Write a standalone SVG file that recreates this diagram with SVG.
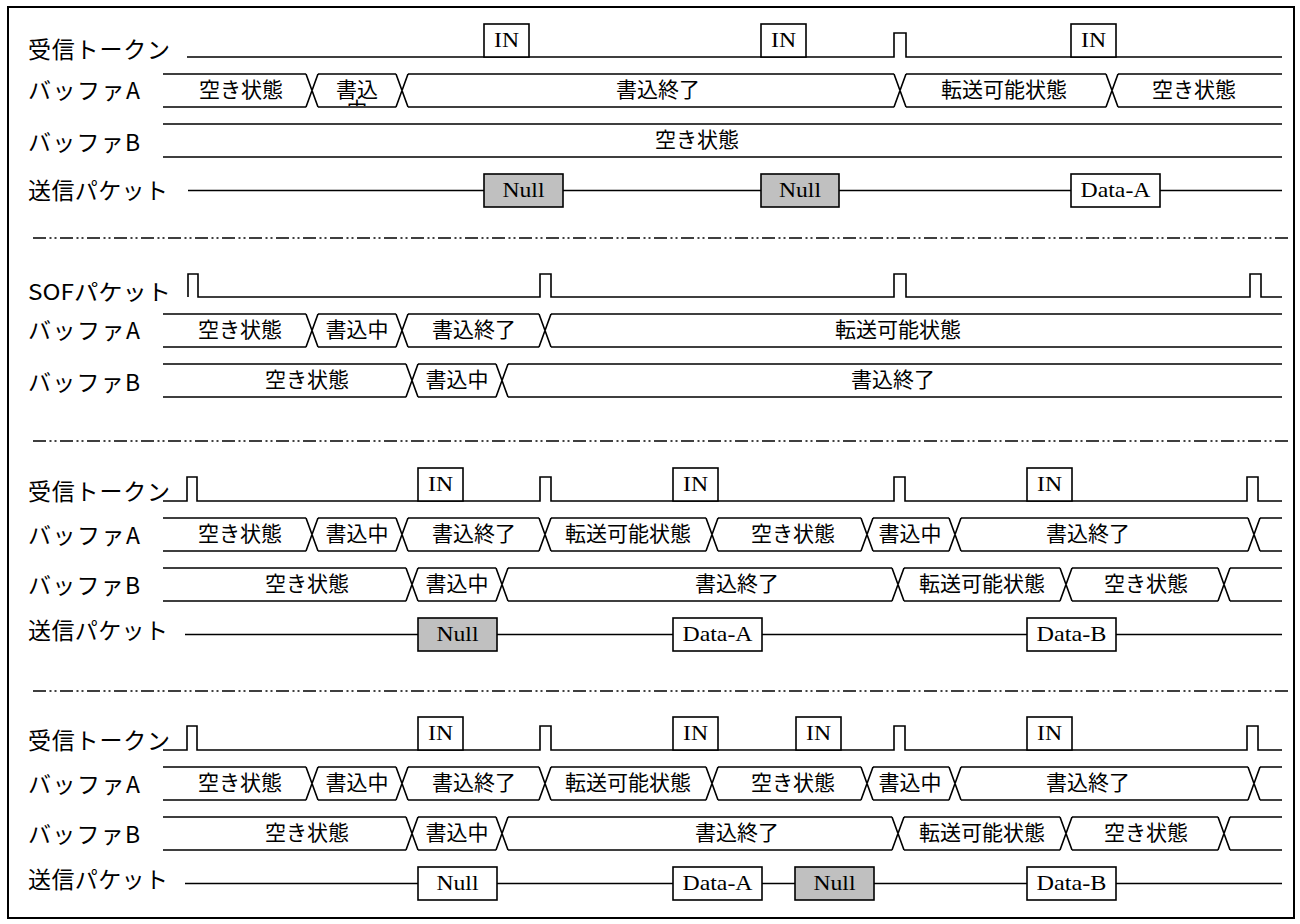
<svg xmlns="http://www.w3.org/2000/svg" width="1300" height="924" viewBox="0 0 1300 924">
<style>
.sig{fill:none;stroke:#000;stroke-width:1.6}
.box{fill:#fff;stroke:#000;stroke-width:1.6}
.gbox{fill:#c0c0c0;stroke:#000;stroke-width:1.6}
.lbl{font-family:"Noto Sans CJK JP","Noto Sans",sans-serif;font-size:23px;fill:#000}
.st{font-family:"Noto Sans CJK JP","Noto Sans",sans-serif;font-size:21px;fill:#000;text-anchor:middle}
.pk{font-family:"Liberation Serif","Times New Roman",serif;font-size:22px;fill:#000;text-anchor:middle}
.sep{fill:none;stroke:#000;stroke-width:1.5;stroke-dasharray:13 3.5 2 3 2 3.5}
</style>
<defs>
<clipPath id="clipW"><rect x="318" y="75" width="78" height="31"/></clipPath>
</defs>
<rect x="8" y="7" width="1286" height="911" fill="#fff" stroke="#000" stroke-width="2"/>

<g id="separators">
<line class="sep" x1="33" y1="238" x2="1288" y2="238"/>
<line class="sep" x1="33" y1="441" x2="1288" y2="441"/>
<line class="sep" x1="33" y1="691" x2="1288" y2="691"/>
</g>

<!-- Section 1 -->
<g id="s1-token">
<text class="lbl" x="28" y="58" textLength="142" lengthAdjust="spacing">受信トークン</text>
<path class="sig" d="M187,57H894V33H906V57H1282"/>
<rect class="box" x="484" y="24" width="45" height="33"/><text class="pk" x="506.5" y="47" textLength="25" lengthAdjust="spacingAndGlyphs">IN</text>
<rect class="box" x="761" y="24" width="45" height="33"/><text class="pk" x="783.5" y="47" textLength="25" lengthAdjust="spacingAndGlyphs">IN</text>
<rect class="box" x="1071" y="24" width="45" height="33"/><text class="pk" x="1093.5" y="47" textLength="25" lengthAdjust="spacingAndGlyphs">IN</text>
</g>
<g id="s1-bufA">
<text class="lbl" x="28" y="99" textLength="112" lengthAdjust="spacing">バッファA</text>
<path class="sig" d="M163,74H306M318,74H396M408,74H894M906,74H1106M1118,74H1282M163,107H306M318,107H396M408,107H894M906,107H1106M1118,107H1282M306,74L318,107M306,107L318,74M396,74L408,107M396,107L408,74M894,74L906,107M894,107L906,74M1106,74L1118,107M1106,107L1118,74"/>
<text class="st" x="241" y="97">空き状態</text>
<text class="st" x="357" y="97">書込</text>
<text class="st" x="357" y="117" clip-path="url(#clipW)">中</text>
<text class="st" x="658" y="97">書込終了</text>
<text class="st" x="1004" y="97">転送可能状態</text>
<text class="st" x="1194" y="97">空き状態</text>
</g>
<g id="s1-bufB">
<text class="lbl" x="28" y="151" textLength="112" lengthAdjust="spacing">バッファB</text>
<path class="sig" d="M163,124H1282M163,157H1282"/>
<text class="st" x="697" y="147">空き状態</text>
</g>
<g id="s1-packet">
<text class="lbl" x="28" y="199" textLength="140" lengthAdjust="spacing">送信パケット</text>
<path class="sig" d="M188,190.5H1282"/>
<rect class="gbox" x="484" y="174" width="79" height="33"/><text class="pk" x="523.5" y="197" textLength="42" lengthAdjust="spacingAndGlyphs">Null</text>
<rect class="gbox" x="761" y="174" width="78" height="33"/><text class="pk" x="800" y="197" textLength="42" lengthAdjust="spacingAndGlyphs">Null</text>
<rect class="box" x="1071" y="174" width="89" height="33"/><text class="pk" x="1115.5" y="197" textLength="70" lengthAdjust="spacingAndGlyphs">Data-A</text>
</g>

<!-- Section 2 -->
<g id="s2-sof">
<text class="lbl" x="28" y="300" textLength="143" lengthAdjust="spacingAndGlyphs" style="font-size:22px">SOFパケット</text>
<path class="sig" d="M188,297V274H198V297H540V274H551V297H894V274H906V297H1250V274H1261V297H1282"/>
</g>
<g id="s2-bufA">
<text class="lbl" x="28" y="339" textLength="112" lengthAdjust="spacing">バッファA</text>
<path class="sig" d="M163,314H306M318,314H396M408,314H539M551,314H1282M163,347H306M318,347H396M408,347H539M551,347H1282M306,314L318,347M306,347L318,314M396,314L408,347M396,347L408,314M539,314L551,347M539,347L551,314"/>
<text class="st" x="240" y="337">空き状態</text>
<text class="st" x="357" y="337">書込中</text>
<text class="st" x="474" y="337">書込終了</text>
<text class="st" x="898" y="337">転送可能状態</text>
</g>
<g id="s2-bufB">
<text class="lbl" x="28" y="391" textLength="112" lengthAdjust="spacing">バッファB</text>
<path class="sig" d="M163,364H406M418,364H496M508,364H1282M163,397H406M418,397H496M508,397H1282M406,364L418,397M406,397L418,364M496,364L508,397M496,397L508,364"/>
<text class="st" x="307" y="387">空き状態</text>
<text class="st" x="457" y="387">書込中</text>
<text class="st" x="893" y="387">書込終了</text>
</g>

<!-- Section 3 -->
<g id="s3-token">
<text class="lbl" x="28" y="500" textLength="142" lengthAdjust="spacing">受信トークン</text>
<path class="sig" d="M163,501H187V477H197V501H540V477H551V501H894V477H905V501H1247V477H1258V501H1282"/>
<rect class="box" x="418" y="468" width="45" height="33"/><text class="pk" x="440.5" y="491" textLength="25" lengthAdjust="spacingAndGlyphs">IN</text>
<rect class="box" x="673" y="468" width="45" height="33"/><text class="pk" x="695.5" y="491" textLength="25" lengthAdjust="spacingAndGlyphs">IN</text>
<rect class="box" x="1027" y="468" width="45" height="33"/><text class="pk" x="1049.5" y="491" textLength="25" lengthAdjust="spacingAndGlyphs">IN</text>
</g>
<g id="s3-bufA">
<text class="lbl" x="28" y="544" textLength="112" lengthAdjust="spacing">バッファA</text>
<path class="sig" d="M163,518H306M318,518H396M408,518H539M551,518H706M718,518H861M873,518H949M961,518H1248M1260,518H1282M163,551H306M318,551H396M408,551H539M551,551H706M718,551H861M873,551H949M961,551H1248M1260,551H1282M306,518L318,551M306,551L318,518M396,518L408,551M396,551L408,518M539,518L551,551M539,551L551,518M706,518L718,551M706,551L718,518M861,518L873,551M861,551L873,518M949,518L961,551M949,551L961,518M1248,518L1260,551M1248,551L1260,518"/>
<text class="st" x="240" y="541">空き状態</text>
<text class="st" x="357" y="541">書込中</text>
<text class="st" x="474" y="541">書込終了</text>
<text class="st" x="628" y="541">転送可能状態</text>
<text class="st" x="793" y="541">空き状態</text>
<text class="st" x="910" y="541">書込中</text>
<text class="st" x="1088" y="541">書込終了</text>
</g>
<g id="s3-bufB">
<text class="lbl" x="28" y="594" textLength="112" lengthAdjust="spacing">バッファB</text>
<path class="sig" d="M163,568H406M418,568H496M508,568H892M904,568H1060M1072,568H1218M1230,568H1282M163,601H406M418,601H496M508,601H892M904,601H1060M1072,601H1218M1230,601H1282M406,568L418,601M406,601L418,568M496,568L508,601M496,601L508,568M892,568L904,601M892,601L904,568M1060,568L1072,601M1060,601L1072,568M1218,568L1230,601M1218,601L1230,568"/>
<text class="st" x="307" y="591">空き状態</text>
<text class="st" x="457" y="591">書込中</text>
<text class="st" x="737" y="591">書込終了</text>
<text class="st" x="982" y="591">転送可能状態</text>
<text class="st" x="1146" y="591">空き状態</text>
</g>
<g id="s3-packet">
<text class="lbl" x="28" y="639" textLength="140" lengthAdjust="spacing">送信パケット</text>
<path class="sig" d="M185,634.5H1282"/>
<rect class="gbox" x="418" y="618" width="79" height="33"/><text class="pk" x="457.5" y="641" textLength="42" lengthAdjust="spacingAndGlyphs">Null</text>
<rect class="box" x="673" y="618" width="89" height="33"/><text class="pk" x="717.5" y="641" textLength="70" lengthAdjust="spacingAndGlyphs">Data-A</text>
<rect class="box" x="1027" y="618" width="89" height="33"/><text class="pk" x="1071.5" y="641" textLength="70" lengthAdjust="spacingAndGlyphs">Data-B</text>
</g>

<!-- Section 4 (same geometry as section 3, shifted down) -->
<g id="s4-token" transform="translate(0,249)">
<text class="lbl" x="28" y="500" textLength="142" lengthAdjust="spacing">受信トークン</text>
<path class="sig" d="M163,501H187V477H197V501H540V477H551V501H894V477H905V501H1247V477H1258V501H1282"/>
<rect class="box" x="418" y="468" width="45" height="33"/><text class="pk" x="440.5" y="491" textLength="25" lengthAdjust="spacingAndGlyphs">IN</text>
<rect class="box" x="673" y="468" width="45" height="33"/><text class="pk" x="695.5" y="491" textLength="25" lengthAdjust="spacingAndGlyphs">IN</text>
<rect class="box" x="796" y="468" width="45" height="33"/><text class="pk" x="818.5" y="491" textLength="25" lengthAdjust="spacingAndGlyphs">IN</text>
<rect class="box" x="1027" y="468" width="45" height="33"/><text class="pk" x="1049.5" y="491" textLength="25" lengthAdjust="spacingAndGlyphs">IN</text>
</g>
<g id="s4-bufA" transform="translate(0,249)">
<text class="lbl" x="28" y="544" textLength="112" lengthAdjust="spacing">バッファA</text>
<path class="sig" d="M163,518H306M318,518H396M408,518H539M551,518H706M718,518H861M873,518H949M961,518H1248M1260,518H1282M163,551H306M318,551H396M408,551H539M551,551H706M718,551H861M873,551H949M961,551H1248M1260,551H1282M306,518L318,551M306,551L318,518M396,518L408,551M396,551L408,518M539,518L551,551M539,551L551,518M706,518L718,551M706,551L718,518M861,518L873,551M861,551L873,518M949,518L961,551M949,551L961,518M1248,518L1260,551M1248,551L1260,518"/>
<text class="st" x="240" y="541">空き状態</text>
<text class="st" x="357" y="541">書込中</text>
<text class="st" x="474" y="541">書込終了</text>
<text class="st" x="628" y="541">転送可能状態</text>
<text class="st" x="793" y="541">空き状態</text>
<text class="st" x="910" y="541">書込中</text>
<text class="st" x="1088" y="541">書込終了</text>
</g>
<g id="s4-bufB" transform="translate(0,249)">
<text class="lbl" x="28" y="594" textLength="112" lengthAdjust="spacing">バッファB</text>
<path class="sig" d="M163,568H406M418,568H496M508,568H892M904,568H1060M1072,568H1218M1230,568H1282M163,601H406M418,601H496M508,601H892M904,601H1060M1072,601H1218M1230,601H1282M406,568L418,601M406,601L418,568M496,568L508,601M496,601L508,568M892,568L904,601M892,601L904,568M1060,568L1072,601M1060,601L1072,568M1218,568L1230,601M1218,601L1230,568"/>
<text class="st" x="307" y="591">空き状態</text>
<text class="st" x="457" y="591">書込中</text>
<text class="st" x="737" y="591">書込終了</text>
<text class="st" x="982" y="591">転送可能状態</text>
<text class="st" x="1146" y="591">空き状態</text>
</g>
<g id="s4-packet" transform="translate(0,249)">
<text class="lbl" x="28" y="639" textLength="140" lengthAdjust="spacing">送信パケット</text>
<path class="sig" d="M185,634.5H1282"/>
<rect class="box" x="418" y="618" width="79" height="33"/><text class="pk" x="457.5" y="641" textLength="42" lengthAdjust="spacingAndGlyphs">Null</text>
<rect class="box" x="673" y="618" width="89" height="33"/><text class="pk" x="717.5" y="641" textLength="70" lengthAdjust="spacingAndGlyphs">Data-A</text>
<rect class="gbox" x="795" y="618" width="79" height="33"/><text class="pk" x="834.5" y="641" textLength="42" lengthAdjust="spacingAndGlyphs">Null</text>
<rect class="box" x="1027" y="618" width="89" height="33"/><text class="pk" x="1071.5" y="641" textLength="70" lengthAdjust="spacingAndGlyphs">Data-B</text>
</g>
</svg>
